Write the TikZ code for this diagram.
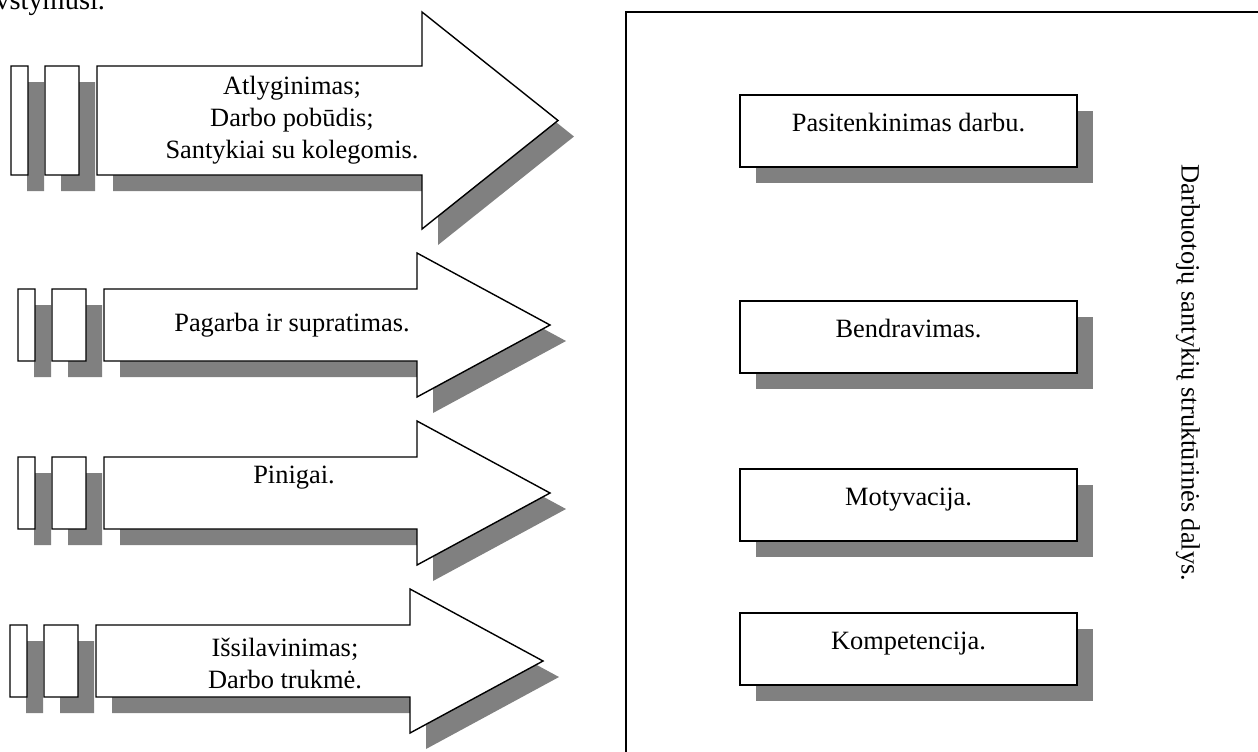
\documentclass[tikz,border=0pt]{standalone}
\usepackage{fontspec}
\setmainfont{Liberation Serif}
\usetikzlibrary{shadows}
\definecolor{shgray}{HTML}{808080}
\tikzset{
  shd/.style={drop shadow={shadow xshift=8pt, shadow yshift=-8pt, fill=shgray, opacity=1}},
  arw/.style={draw=black, line width=0.7pt, fill=white, shd},
  cell/.style={draw=black, line width=1pt, fill=white, shd, minimum width=168.5pt, minimum height=36pt, text height=9pt, text depth=9pt, inner sep=0pt},
  txt/.style={align=center, font=\fontsize{13.2}{16}\selectfont},
}
\begin{document}
\begin{tikzpicture}[x=0.5pt,y=-0.5pt]
  \useasboundingbox (0,0) rectangle (1258,751);
  % cut-off line of the page above
  \node[font=\fontsize{14.2}{16}\selectfont, anchor=base west, inner sep=0pt] (head) at (-5,9) {vstymusi.};
  % arrows: left x / body top / body bottom / head base / tip / head overhang
  \foreach \xs/\yt/\yb/\xb/\xt/\hd in {11/66/175/422/558/54, 18/289/361/417/550/36, 18/457/529/417/550/36, 10/625/697/410/543/36}
  {
    \draw[arw] (\xs,\yt) rectangle (\xs+17,\yb)
      (\xs+34,\yt) rectangle (\xs+68,\yb)
      (\xs+86,\yt) -- (\xb,\yt) -- (\xb,\yt-\hd) -- (\xt,{(\yt+\yb)/2}) -- (\xb,\yb+\hd) -- (\xb,\yb) -- (\xs+86,\yb) -- cycle;
  }
  \node[txt] (t1) at (292,120) {Atlyginimas;\\Darbo pobūdis;\\Santykiai su kolegomis.};
  \node[txt] (t2) at (292,325) {Pagarba ir supratimas.};
  \node[txt] (t3) at (294,478) {Pinigai.};
  \node[txt] (t4) at (285,663) {Išsilavinimas;\\Darbo trukmė.};
  % right panel
  \draw[line width=1pt] (626,770) |- (1270,12);
  \foreach \n/\y/\s in {1/131/Pasitenkinimas darbu., 2/337/Bendravimas., 3/505/Motyvacija., 4/649/Kompetencija.}
    \node[cell, txt] (b\n) at (908.5,\y) {\s};
  \node[txt, rotate=-90] (side) at (1188,373) {Darbuotojų santykių struktūrinės dalys.};
\end{tikzpicture}
\end{document}
